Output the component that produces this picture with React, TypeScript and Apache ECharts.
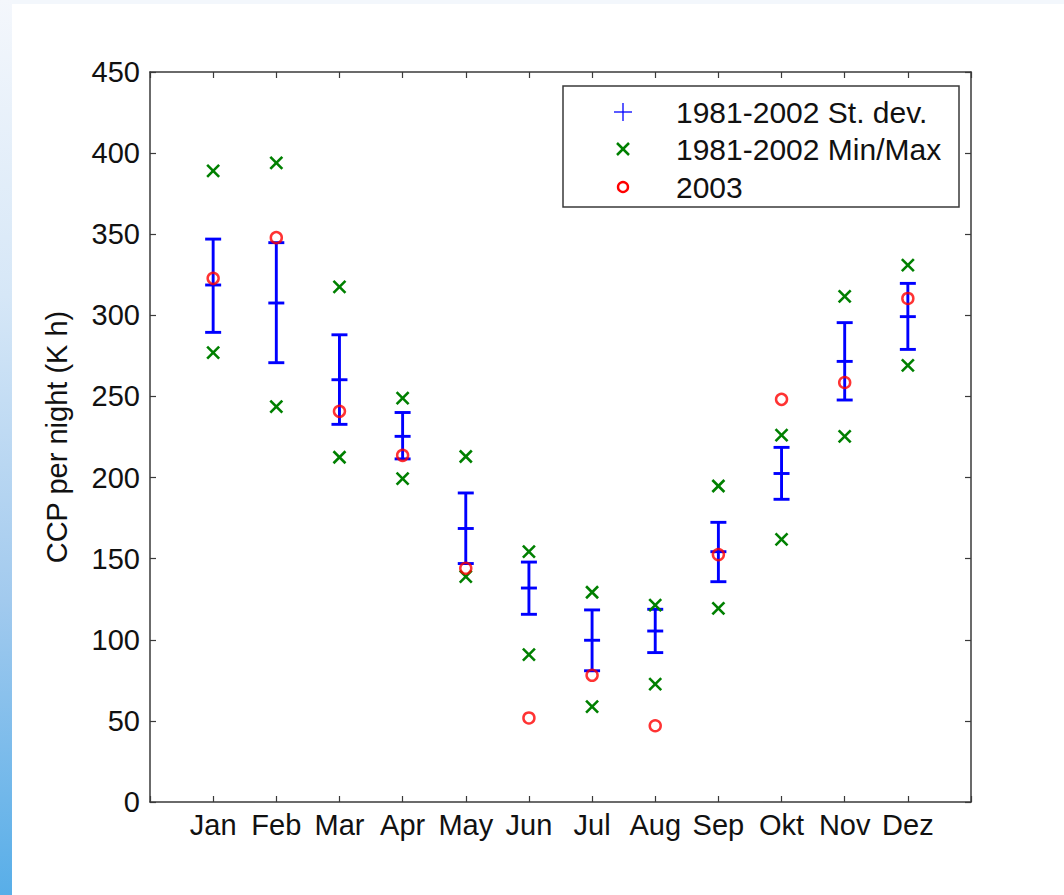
import React, { useEffect, useRef } from "react";
import * as echarts from "echarts";

const months = ["Jan", "Feb", "Mar", "Apr", "May", "Jun", "Jul", "Aug", "Sep", "Okt", "Nov", "Dez"];
const sdMean = [318.7, 307.6, 260.3, 225.4, 168.6, 131.9, 99.7, 105.4, 154.3, 202.5, 271.6, 299.2];
const sdUpper = [347.0, 344.8, 288.0, 240.1, 190.5, 147.9, 118.4, 118.8, 172.4, 218.6, 295.5, 319.7];
const sdLower = [289.5, 270.8, 232.8, 211.5, 147.0, 115.7, 80.9, 92.1, 135.8, 186.6, 247.8, 279.0];
const maxVal = [389.0, 394.0, 317.5, 249.0, 213.0, 154.3, 129.3, 121.4, 194.8, 226.2, 311.7, 331.0];
const minVal = [277.0, 243.7, 212.5, 199.3, 138.9, 90.8, 58.8, 72.7, 119.4, 161.9, 225.4, 269.2];
const y2003 = [322.8, 347.9, 240.8, 213.7, 144.1, 51.8, 78.1, 47.0, 152.5, 248.2, 258.6, 310.4];
const yTicks = [0, 50, 100, 150, 200, 250, 300, 350, 400, 450];
const legendNames = ["1981-2002 St. dev.", "1981-2002 Min/Max", "2003"];

const FONT = "'Liberation Sans', Arial, Helvetica, sans-serif";
const BLUE = "#0000ff";
const GREEN = "#008000";
const RED = "#ff0000";
const AXIS = "#3a3a3a";

export default function App() {
  const ref = useRef<HTMLDivElement>(null);
  useEffect(() => {
    if (!ref.current) return;
    const chart = echarts.init(ref.current, null, { renderer: "svg" });
    const errData = months.map((_, i) => [i + 1, sdLower[i], sdUpper[i], sdMean[i]]);
    const mmData = months.map((_, i) => [i + 1, minVal[i], maxVal[i]]);
    const ptData = months.map((_, i) => [i + 1, y2003[i]]);

    const baseX = {
      type: "value",
      min: 0,
      max: 13,
      interval: 1,
      splitLine: { show: false },
      axisLine: { show: true, onZero: false, lineStyle: { color: AXIS, width: 1.5 } },
      axisTick: { show: true, inside: true, length: 6, lineStyle: { color: AXIS, width: 1.2 } },
    };
    const baseY = {
      type: "value",
      min: 0,
      max: 450,
      interval: 50,
      splitLine: { show: false },
      axisLine: { show: true, onZero: false, lineStyle: { color: AXIS, width: 1.5 } },
      axisTick: { show: true, inside: true, length: 6, lineStyle: { color: AXIS, width: 1.2 } },
    };

    const legendX = 623;
    const legendY = [112, 149, 187];

    chart.setOption({
      animation: false,
      backgroundColor: "#ffffff",
      grid: { left: 150, top: 72, width: 821, height: 730, containLabel: false },
      xAxis: [
        {
          ...baseX,
          position: "bottom",
          axisLabel: {
            show: true,
            margin: 8,
            fontFamily: FONT,
            fontSize: 29,
            color: "#111",
            formatter: (v: number) => (v >= 1 && v <= 12 ? months[v - 1] : ""),
          },
        },
        { ...baseX, position: "top", axisLabel: { show: false } },
      ],
      yAxis: [
        {
          ...baseY,
          position: "left",
          name: "CCP per night (K h)",
          nameLocation: "middle",
          nameGap: 79,
          nameRotate: 90,
          nameTextStyle: { fontFamily: FONT, fontSize: 29, color: "#111" },
          axisLabel: {
            show: true,
            margin: 10,
            fontFamily: FONT,
            fontSize: 29,
            color: "#111",
            formatter: (v: number) => (yTicks.includes(v) ? String(v) : ""),
          },
        },
        { ...baseY, position: "right", axisLabel: { show: false } },
      ],
      series: [
        {
          name: legendNames[0],
          type: "custom",
          xAxisIndex: 0,
          yAxisIndex: 0,
          data: errData,
          encode: { x: 0, y: [1, 2, 3] },
          z: 2,
          renderItem: (params: any, api: any) => {
            const x = api.value(0);
            const lo = api.coord([x, api.value(1)]);
            const hi = api.coord([x, api.value(2)]);
            const m = api.coord([x, api.value(3)]);
            const hw = 8;
            const style = { stroke: BLUE, lineWidth: 2.9, fill: "none" };
            return {
              type: "group",
              children: [
                { type: "line", shape: { x1: lo[0], y1: lo[1], x2: hi[0], y2: hi[1] }, style },
                { type: "line", shape: { x1: lo[0] - hw, y1: lo[1], x2: lo[0] + hw, y2: lo[1] }, style },
                { type: "line", shape: { x1: hi[0] - hw, y1: hi[1], x2: hi[0] + hw, y2: hi[1] }, style },
                { type: "line", shape: { x1: m[0] - hw, y1: m[1], x2: m[0] + hw, y2: m[1] }, style },
              ],
            };
          },
        },
        {
          name: legendNames[1],
          type: "custom",
          xAxisIndex: 0,
          yAxisIndex: 0,
          data: mmData,
          encode: { x: 0, y: [1, 2] },
          z: 3,
          renderItem: (params: any, api: any) => {
            const x = api.value(0);
            const a = api.coord([x, api.value(1)]);
            const b = api.coord([x, api.value(2)]);
            const h = 6;
            const style = { stroke: GREEN, lineWidth: 2.6, fill: "none" };
            const cross = (p: number[]) => [
              { type: "line", shape: { x1: p[0] - h, y1: p[1] - h, x2: p[0] + h, y2: p[1] + h }, style },
              { type: "line", shape: { x1: p[0] - h, y1: p[1] + h, x2: p[0] + h, y2: p[1] - h }, style },
            ];
            return { type: "group", children: [...cross(a), ...cross(b)] };
          },
        },
        {
          name: legendNames[2],
          type: "scatter",
          xAxisIndex: 0,
          yAxisIndex: 0,
          data: ptData,
          symbol: "circle",
          symbolSize: 11,
          z: 4,
          itemStyle: { color: "rgba(0,0,0,0)", borderColor: RED, borderWidth: 2.5 },
        },
      ],
      graphic: [
        { type: "rect", shape: { x: 0, y: 0, width: 1064, height: 4 }, style: { fill: "#f3f7fc" }, silent: true },
        {
          type: "rect",
          shape: { x: 0, y: 0, width: 12, height: 895 },
          style: {
            fill: new echarts.graphic.LinearGradient(0, 0, 0, 1, [
              { offset: 0, color: "#f4f7fc" },
              { offset: 0.33, color: "#d6e7f7" },
              { offset: 0.67, color: "#a2caee" },
              { offset: 1, color: "#58aee8" },
            ]),
          },
          silent: true,
        },
        {
          type: "group",
          z: 100,
          children: [
            {
              type: "rect",
              shape: { x: 563, y: 86, width: 396, height: 121 },
              style: { fill: "#ffffff", stroke: AXIS, lineWidth: 1.5 },
            },
            { type: "line", shape: { x1: legendX - 9, y1: legendY[0], x2: legendX + 9, y2: legendY[0] }, style: { stroke: BLUE, lineWidth: 1.3 } },
            { type: "line", shape: { x1: legendX, y1: legendY[0] - 9, x2: legendX, y2: legendY[0] + 9 }, style: { stroke: BLUE, lineWidth: 1.3 } },
            { type: "line", shape: { x1: legendX - 6, y1: legendY[1] - 6, x2: legendX + 6, y2: legendY[1] + 6 }, style: { stroke: GREEN, lineWidth: 2.5 } },
            { type: "line", shape: { x1: legendX - 6, y1: legendY[1] + 6, x2: legendX + 6, y2: legendY[1] - 6 }, style: { stroke: GREEN, lineWidth: 2.5 } },
            { type: "circle", shape: { cx: legendX, cy: legendY[2], r: 5 }, style: { fill: "none", stroke: RED, lineWidth: 2.4 } },
            ...legendNames.map((t, i) => ({
              type: "text",
              x: 676,
              y: legendY[i],
              style: { text: t, fontFamily: FONT, fontSize: 30, fill: "#111", verticalAlign: "middle", align: "left" },
            })),
          ],
        },
      ],
    });
    return () => chart.dispose();
  }, []);
  return (
    <div
      ref={ref}
      style={{ position: "fixed", left: 0, top: 0, width: 1064, height: 895 }}
    />
  );
}
